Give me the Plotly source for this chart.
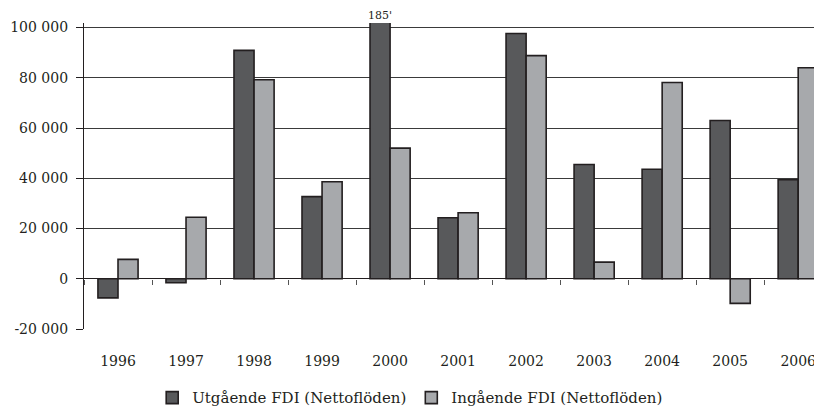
import plotly.graph_objects as go

years = ["1996", "1997", "1998", "1999", "2000", "2001", "2002", "2003", "2004", "2005", "2006"]
utgaende = [-7600, -1600, 90900, 32700, 185000, 24300, 97600, 45500, 43600, 63000, 39400]
ingaende = [7700, 24500, 79200, 38600, 52000, 26300, 88800, 6600, 78100, -9800, 84000]
series_names = ["Utgående FDI (Nettoflöden)", "Ingående FDI (Nettoflöden)"]
y_ticks = [-20000, 0, 20000, 40000, 60000, 80000, 100000]
y_tick_text = ["-20 000", "0", "20 000", "40 000", "60 000", "80 000", "100 000"]

FONT = "DejaVu Serif"
DARK = "#58595b"
LIGHT = "#a7a9ac"
EDGE = "#231f20"
YMIN, YMAX = -20000, 101800

fig = go.Figure()
fig.add_trace(go.Bar(x=years, y=utgaende, name=series_names[0],
                     marker=dict(color=DARK, line=dict(color=EDGE, width=1.6))))
fig.add_trace(go.Bar(x=years, y=ingaende, name=series_names[1],
                     marker=dict(color=LIGHT, line=dict(color=EDGE, width=1.6))))
# helper axis carrying the category-boundary tick marks on the zero line
fig.add_trace(go.Scatter(x=years, y=[None] * len(years), xaxis="x2", yaxis="y",
                         showlegend=False, hoverinfo="skip", mode="markers"))

# label for the clipped bar (category axes take the serial index)
i_max = utgaende.index(max(utgaende))
fig.add_annotation(x=i_max, y=1, xref="x", yref="paper",
                   text=f"{round(utgaende[i_max] / 1000)}'", showarrow=False,
                   xshift=-10, yanchor="bottom", yshift=0, borderpad=0,
                   font=dict(family=FONT, size=11, color="#231f20"))

xr = [-0.5, 10.35]
zero_pos = (0 - YMIN) / (YMAX - YMIN)

fig.update_layout(
    width=814, height=407,
    margin=dict(l=76, r=0, t=15, b=86, autoexpand=False),
    paper_bgcolor="white", plot_bgcolor="white",
    barmode="group", bargap=0.41, bargroupgap=0,
    font=dict(family=FONT, size=14, color="#231f20"),
    showlegend=True,
    legend=dict(orientation="h", x=0.442, xanchor="center", y=-0.225, yanchor="middle",
                font=dict(family=FONT, size=15, color="#231f20"),
                itemwidth=30, tracegroupgap=0),
    xaxis=dict(type="category", range=xr, showline=False, showgrid=False,
               ticks="", ticklabelstandoff=22, fixedrange=True, automargin=False,
               tickfont=dict(family=FONT, size=14, color="#231f20")),
    xaxis2=dict(type="category", overlaying="x", anchor="free", position=zero_pos,
                range=xr, side="bottom", showline=False, showgrid=False,
                tickson="boundaries", ticks="outside", ticklen=5, tickwidth=1,
                tickcolor="#555", showticklabels=False, automargin=False),
    yaxis=dict(range=[YMIN, YMAX], tickvals=y_ticks, ticktext=y_tick_text,
               showgrid=True, gridcolor="#3a3a3a", gridwidth=1,
               zeroline=True, zerolinecolor="#231f20", zerolinewidth=1,
               showline=True, linecolor="#231f20", linewidth=1.2,
               ticks="outside", ticklen=7, tickcolor="#231f20", automargin=False,
               ticklabelstandoff=5,
               tickfont=dict(family=FONT, size=14, color="#231f20")),
)

fig.write_html("out.html")
